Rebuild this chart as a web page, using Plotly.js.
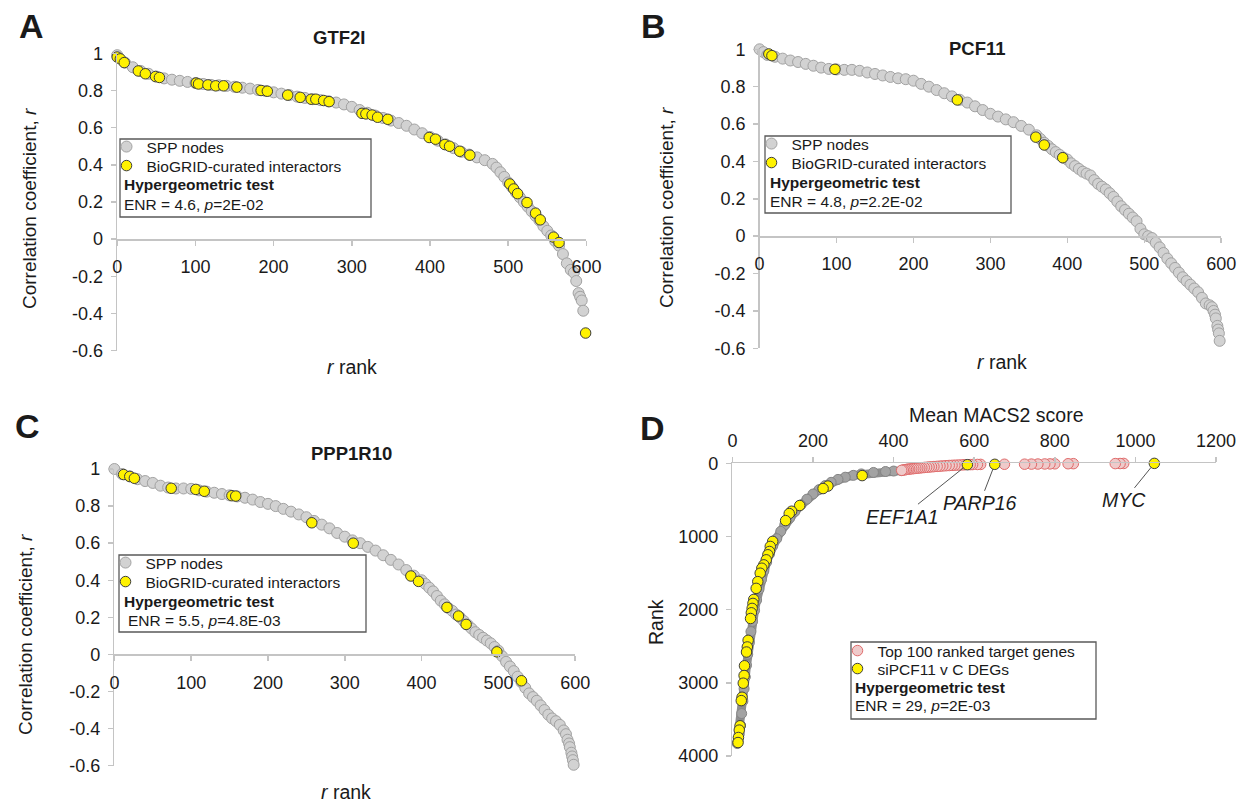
<!DOCTYPE html>
<html><head><meta charset="utf-8">
<script src="https://cdn.plot.ly/plotly-3.0.1.min.js"></script>
<style>html,body{margin:0;padding:0;background:#fff;}#chart{width:1245px;height:803px;}</style>
</head><body><div id="chart"></div>
<script>
// ---------- Panel A: GTF2I ----------
const rankA = [0,10,20,30,40,50,60,70,80,90,
  100,110,120,130,140,150,160,170,180,190,
  200,210,220,230,240,250,260,270,280,290,
  300,310,320,330,340,350,360,370,380,390,
  400,410,420,430,440,450,460,470,480,485,
  490,495,500,505,510,515,520,525,530,535,
  540,545,550,555,560,565,570,575,580,584,
  587,590,592,594,596];
const rA = [0.99,0.95,0.925,0.905,0.89,0.875,0.865,0.858,0.852,0.846,
  0.84,0.835,0.83,0.828,0.825,0.82,0.815,0.81,0.803,0.797,
  0.79,0.783,0.775,0.767,0.76,0.753,0.748,0.742,0.735,0.725,
  0.712,0.695,0.68,0.665,0.652,0.638,0.625,0.61,0.59,0.57,
  0.55,0.53,0.51,0.49,0.47,0.455,0.44,0.425,0.405,0.385,
  0.36,0.335,0.305,0.28,0.25,0.225,0.2,0.175,0.15,0.125,
  0.1,0.07,0.045,0.02,-0.01,-0.035,-0.08,-0.13,-0.165,-0.18,
  -0.225,-0.29,-0.31,-0.33,-0.385];
const bioRankA = [0,4,9,27,36,49,54,101,104,116,126,136,153,184,192,218,234,248,254,264,271,313,318,326,333,346,399,407,419,425,438,451,502,507,512,524,535,541,558,565,599];
const bioRA = [0.98,0.97,0.95,0.905,0.89,0.875,0.87,0.84,0.835,0.83,0.825,0.825,0.818,0.80,0.796,0.775,0.763,0.753,0.753,0.746,0.74,0.677,0.674,0.668,0.656,0.645,0.547,0.538,0.509,0.5,0.473,0.452,0.297,0.27,0.245,0.197,0.14,0.104,0.011,-0.018,-0.505];

// ---------- Panel B: PCF11 ----------
const rankB = [0,5,10,20,30,40,50,60,70,80,
  90,100,110,120,130,140,150,160,170,180,
  190,200,210,220,230,240,250,260,270,280,
  290,300,310,320,330,340,350,360,365,370,
  375,380,385,390,395,400,405,410,415,420,
  425,430,435,440,445,450,455,460,465,470,
  475,480,485,490,495,500,505,510,515,520,
  525,530,535,540,545,550,555,560,565,570,
  575,580,585,588,590,592,593,595,596,597,
  598];
const rB = [1.0,0.985,0.97,0.96,0.95,0.94,0.932,0.922,0.912,0.902,
  0.895,0.892,0.89,0.89,0.885,0.876,0.868,0.86,0.852,0.845,
  0.84,0.832,0.815,0.8,0.782,0.765,0.748,0.73,0.715,0.695,
  0.675,0.655,0.64,0.625,0.61,0.59,0.57,0.54,0.52,0.50,
  0.483,0.465,0.45,0.435,0.42,0.41,0.39,0.375,0.36,0.345,
  0.335,0.325,0.3,0.28,0.265,0.25,0.23,0.21,0.185,0.16,
  0.14,0.12,0.1,0.08,0.04,0.01,0.0,-0.01,-0.035,-0.06,
  -0.09,-0.12,-0.145,-0.17,-0.195,-0.22,-0.24,-0.26,-0.28,-0.3,
  -0.33,-0.36,-0.37,-0.38,-0.4,-0.42,-0.44,-0.48,-0.5,-0.52,
  -0.56];
const bioRankB = [12,16,98,257,359,370,394];
const bioRB = [0.975,0.966,0.893,0.729,0.53,0.488,0.42];

// ---------- Panel C: PPP1R10 ----------
const rankC = [0,10,20,30,40,50,60,70,80,90,
  100,110,120,130,140,150,160,170,180,190,
  200,210,220,230,240,250,260,270,280,290,
  300,310,320,330,340,350,360,370,380,390,
  400,405,410,415,420,425,430,435,440,445,
  450,455,460,465,470,475,480,485,490,495,
  500,505,510,515,520,525,530,535,540,545,
  550,555,560,565,570,575,580,585,588,590,
  592,593,595,596,597,598];
const rC = [1.0,0.973,0.96,0.945,0.935,0.925,0.91,0.9,0.895,0.895,
  0.893,0.885,0.878,0.872,0.865,0.858,0.852,0.845,0.835,0.822,
  0.812,0.8,0.785,0.77,0.755,0.74,0.72,0.7,0.68,0.655,
  0.635,0.615,0.6,0.58,0.56,0.535,0.51,0.485,0.455,0.425,
  0.4,0.38,0.36,0.34,0.315,0.29,0.27,0.25,0.235,0.215,
  0.2,0.18,0.16,0.14,0.12,0.105,0.09,0.075,0.06,0.04,
  0.02,-0.01,-0.04,-0.065,-0.09,-0.12,-0.15,-0.18,-0.21,-0.23,
  -0.25,-0.275,-0.3,-0.325,-0.345,-0.36,-0.38,-0.41,-0.43,-0.46,
  -0.48,-0.5,-0.53,-0.55,-0.57,-0.595];
const bioRankC = [12,20,26,74,106,117,153,158,257,311,386,396,433,448,458,498,530];
const bioRC = [0.97,0.96,0.95,0.896,0.89,0.88,0.856,0.854,0.71,0.60,0.423,0.394,0.254,0.207,0.162,0.014,-0.142];

// ---------- Panel D: MACS2 ----------
const dGreyScore = [420,400,380,350,320,300,280,262,245,230,215,200,185,170,155,142,130,120,110,100,92,85,78,72,66,60,55,50,46,42,38,35,32,29,26,23,20,17,14,12];
const dGreyRank = [100,106,112,125,145,165,190,220,260,305,360,420,490,570,660,750,840,930,1030,1130,1240,1350,1470,1590,1720,1870,2010,2160,2300,2450,2610,2760,2920,3080,3250,3420,3580,3700,3800,3830];
const dPinkScore = [971,962,950,846,833,800,788,775,758,742,725,675,616,608,596,590,575,568,560,552,545,538,530,522,515,508,500,494,488,482,476,470,465,460,455,450,445,440,436,432,428,424,420];
const dPinkRank = [2,3,4,5,6,7,8,9,10,11,12,13,15,16,17,18,20,22,24,26,28,30,33,36,39,42,45,48,51,54,57,60,63,66,69,72,75,78,81,84,88,92,96];
const dYellowScore = [1047,651,583,322,237,225,167,147,141,132,100,94,92,88,84,78,73,69,63,59,53,51,49,47,45,39,37,35,30,29,27,24,22,19,17,15,14];
const dYellowRank = [1,14,19,168,311,345,577,655,687,783,1067,1136,1205,1250,1319,1388,1434,1502,1617,1709,1860,1915,1983,2043,2121,2419,2510,2579,2767,2900,3005,3197,3243,3587,3646,3747,3816];
const geneLabels = ['MYC','PARP16','EEF1A1'];
const geneIndex = [0,1,2];

// ---------- ticks ----------
const rTickVals = [-0.6,-0.4,-0.2,0,0.2,0.4,0.6,0.8,1];
const rTickText = ['-0.6','-0.4','-0.2','0','0.2','0.4','0.6','0.8','1'];
const rankTickVals = [0,100,200,300,400,500,600];
const scoreTickVals = [0,200,400,600,800,1000,1200];
const dRankTickVals = [0,1000,2000,3000,4000];

// ---------- layout helpers ----------
const W = 1245, H = 803;
const FONT = '"Liberation Sans", Arial, Helvetica, sans-serif';
const TXT = '#1a1a1a';
const px = v => v / W, py = v => 1 - v / H;
const rRange = [-0.6, 1];

const P = {
  A: {x0:117.2, x1:586.4, yTop:53.3, yBot:350.7},
  B: {x0:759.6, x1:1221.2, yTop:49.3, yBot:348.3},
  C: {x0:114.4, x1:575.2, yTop:469, yBot:765.7},
  D: {x0:732.4, x1:1216, yTop:463.3, yBot:756}
};

const axCommon = {
  showline:true, linecolor:'#c4c4c4', linewidth:1.5, mirror:false,
  ticks:'outside', ticklen:5, tickwidth:1.5, tickcolor:'#c4c4c4',
  showgrid:false, zeroline:false, automargin:false, fixedrange:true,
  tickfont:{family:FONT, size:18, color:TXT}
};

function rPanel(p, sx) {
  const yd = [py(p.yBot), py(p.yTop)];
  const pos = yd[0] + (0 - rRange[0]) / (rRange[1] - rRange[0]) * (yd[1] - yd[0]);
  return {
    x: Object.assign({}, axCommon, {domain:[px(p.x0), px(p.x1)], range:[0,600], anchor:'free', position:pos,
        tickmode:'array', tickvals:rankTickVals, ticktext:rankTickVals.map(String), ticklabelstandoff:6}),
    y: Object.assign({}, axCommon, {domain:yd, range:rRange, anchor:sx,
        tickmode:'array', tickvals:rTickVals, ticktext:rTickText, ticklabelstandoff:4})
  };
}
const aA = rPanel(P.A,'x'), aB = rPanel(P.B,'x2'), aC = rPanel(P.C,'x3');

const greyMk = {size:11, color:'#d2d2d2', line:{color:'#a2a2a2', width:1}};
const yelMk = {size:10.5, color:'#fff200', line:{color:'#3d3d3d', width:1}};

function pair(xs, ys, bx, by, xa, ya, lg1, lg2) {
  return [
    {type:'scatter', mode:'markers', x:xs, y:ys, xaxis:xa, yaxis:ya, marker:greyMk, name:'SPP nodes', legend:lg1, cliponaxis:false, hoverinfo:'skip'},
    {type:'scatter', mode:'markers', x:bx, y:by, xaxis:xa, yaxis:ya, marker:yelMk, name:'BioGRID-curated interactors', legend:lg2, cliponaxis:false, hoverinfo:'skip'}
  ];
}

const traces = [].concat(
  pair(rankA, rA, bioRankA, bioRA, 'x', 'y', 'legend', 'legend2'),
  pair(rankB, rB, bioRankB, bioRB, 'x2', 'y2', 'legend3', 'legend4'),
  pair(rankC, rC, bioRankC, bioRC, 'x3', 'y3', 'legend5', 'legend6'),
  [
    {type:'scatter', mode:'lines+markers', x:dGreyScore, y:dGreyRank, xaxis:'x4', yaxis:'y4',
     line:{color:'#8e8e8e', width:9}, marker:{size:10, color:'#a3a3a3', line:{color:'#858585', width:1}},
     showlegend:false, cliponaxis:false, hoverinfo:'skip'},
    {type:'scatter', mode:'markers', x:dPinkScore, y:dPinkRank, xaxis:'x4', yaxis:'y4',
     marker:{size:10.5, color:'#efcaca', line:{color:'#e06a6a', width:1}}, name:'Top 100 ranked target genes', legend:'legend7', cliponaxis:false, hoverinfo:'skip'},
    {type:'scatter', mode:'markers', x:dYellowScore, y:dYellowRank, xaxis:'x4', yaxis:'y4',
     marker:yelMk, name:'siPCF11 v C DEGs', legend:'legend8', cliponaxis:false, hoverinfo:'skip'}
  ]
);

// legend symbol centre ~9px right of the legend's left edge
function leg(symX, yC) {
  return {x:px(symX - 9), y:py(yC), xanchor:'left', yanchor:'middle', bgcolor:'rgba(0,0,0,0)', borderwidth:0,
          font:{family:FONT, size:15.5, color:TXT}, itemwidth:30, indentation:-11, tracegroupgap:0, itemclick:false};
}

function ann(text, x, y, size, opts) {
  return Object.assign({text:text, x:px(x), y:py(y), xref:'paper', yref:'paper', showarrow:false,
    xanchor:'center', yanchor:'middle', font:{family:FONT, size:size, color:TXT}}, opts || {});
}
function box(x0, y0, x1, y1) {
  return {type:'rect', xref:'paper', yref:'paper', x0:px(x0), x1:px(x1), y0:py(y1), y1:py(y0),
          line:{color:'#5a5a5a', width:1.3}, fillcolor:'rgba(0,0,0,0)', layer:'above'};
}

const annotations = [
  ann('<b>A</b>', 31, 26, 34), ann('<b>B</b>', 653, 26, 34), ann('<b>C</b>', 27, 426, 34), ann('<b>D</b>', 652, 428, 34),
  ann('<b>GTF2I</b>', 339, 38, 18.5), ann('<b>PCF11</b>', 977, 48, 18.5), ann('<b>PPP1R10</b>', 351, 453, 18.5),
  ann('<i>r</i> rank', 352, 367, 19.5), ann('<i>r</i> rank', 1002, 362, 19.5), ann('<i>r</i> rank', 346, 792, 19.5),
  ann('Correlation coefficient, <i>r</i>', 30, 209, 19, {textangle:-90}),
  ann('Correlation coefficient, <i>r</i>', 667, 208, 19, {textangle:-90}),
  ann('Correlation coefficient, <i>r</i>', 25, 635, 19, {textangle:-90}),
  ann('Mean MACS2 score', 996, 415, 19.5),
  ann('Rank', 656, 622, 19.5, {textangle:-90}),
  ann('<b>Hypergeometric test</b>', 122, 184, 15.5, {xanchor:'left'}),
  ann('ENR = 4.6, <i>p</i>=2E-02', 122, 204, 15.5, {xanchor:'left'}),
  ann('<b>Hypergeometric test</b>', 768, 182, 15.5, {xanchor:'left'}),
  ann('ENR = 4.8, <i>p</i>=2.2E-02', 768, 201, 15.5, {xanchor:'left'}),
  ann('<b>Hypergeometric test</b>', 122, 601, 15.5, {xanchor:'left'}),
  ann('ENR = 5.5, <i>p</i>=4.8E-03', 126, 620, 15.5, {xanchor:'left'}),
  ann('<b>Hypergeometric test</b>', 853, 687, 15.5, {xanchor:'left'}),
  ann('ENR = 29, <i>p</i>=2E-03', 853, 705, 15.5, {xanchor:'left'})
];
const geneOffsets = [[-30, 37], [-15, 39], [-65, 52]];
geneLabels.forEach((g, k) => {
  const i = geneIndex[k];
  annotations.push({text:'<i>' + g + '</i>', x:dYellowScore[i], y:dYellowRank[i], xref:'x4', yref:'y4',
    showarrow:true, arrowhead:0, arrowwidth:1, arrowcolor:'#555', standoff:5,
    ax:geneOffsets[k][0], ay:geneOffsets[k][1], axref:'pixel', ayref:'pixel',
    font:{family:FONT, size:19.5, color:TXT}});
});

const layout = {
  width:W, height:H, autosize:false,
  margin:{l:0, r:0, t:0, b:0, pad:0, autoexpand:false},
  paper_bgcolor:'#ffffff', plot_bgcolor:'rgba(0,0,0,0)',
  font:{family:FONT, color:TXT},
  showlegend:true,
  xaxis:aA.x, yaxis:aA.y, xaxis2:aB.x, yaxis2:aB.y, xaxis3:aC.x, yaxis3:aC.y,
  xaxis4:Object.assign({}, axCommon, {domain:[px(P.D.x0), px(P.D.x1)], range:[0,1200], side:'top', anchor:'y4',
      tickmode:'array', tickvals:scoreTickVals, ticktext:scoreTickVals.map(String), ticklabelstandoff:3}),
  yaxis4:Object.assign({}, axCommon, {domain:[py(P.D.yBot), py(P.D.yTop)], range:[4000,0], anchor:'x4',
      tickmode:'array', tickvals:dRankTickVals, ticktext:dRankTickVals.map(String), ticklabelstandoff:4}),
  legend:leg(126.5, 147), legend2:leg(126.5, 166),
  legend3:leg(771.5, 144), legend4:leg(771.5, 163),
  legend5:leg(125.5, 563), legend6:leg(125.5, 582),
  legend7:leg(857.5, 651), legend8:leg(857.5, 669),
  shapes:[box(120,139,371,217), box(765,136,1011,213), box(119,555,366,632), box(851,642,1096,719)],
  annotations:annotations
};

Plotly.newPlot('chart', traces, layout, {staticPlot:true, displayModeBar:false});
</script></body></html>
